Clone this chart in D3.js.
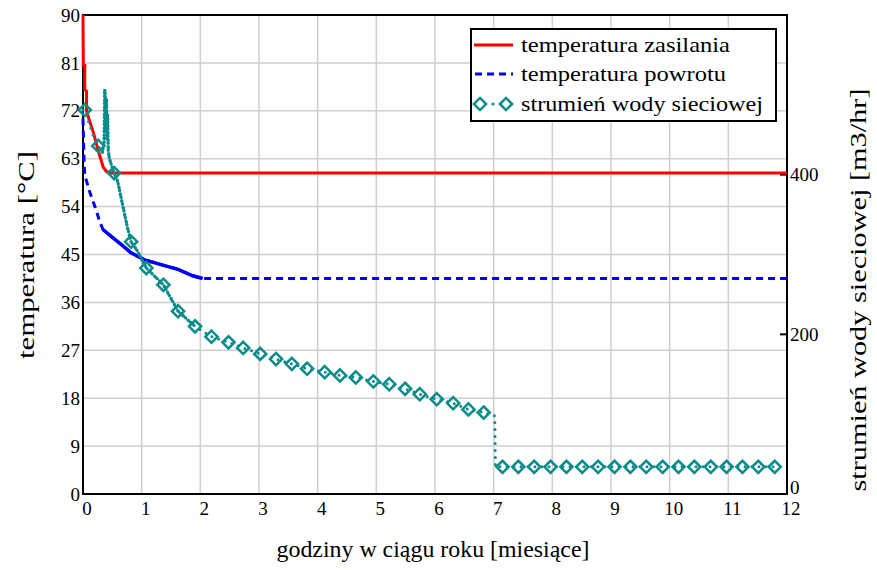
<!DOCTYPE html>
<html>
<head>
<meta charset="utf-8">
<script src="https://cdn.jsdelivr.net/npm/d3@7"></script>
<style>
  body { margin: 0; background: #fff; }
</style>
</head>
<body>
<script>
// axis ticks
const monthTicks = [0, 1, 2, 3, 4, 5, 6, 7, 8, 9, 10, 11, 12];
const tempTicks = [0, 9, 18, 27, 36, 45, 54, 63, 72, 81, 90];
const flowTicks = [0, 200, 400];

// temperatura zasilania (left axis)
const supplyX = [0, 0.005, 0.03, 0.03, 0.06, 0.06, 0.1, 0.175, 0.26, 0.345, 0.4, 0.46, 12];
const supplyT = [90, 80.5, 80.5, 76, 75.7, 72, 70.5, 68, 64.5, 61.4, 60.6, 60.3, 60.3];

// temperatura powrotu (left axis)
const returnX = [0, 0.01, 0.02, 0.03, 0.06, 0.11, 0.17, 0.23, 0.28, 0.34, 0.48, 0.65, 0.82, 1.05, 1.33, 1.62, 1.87, 2.04, 12];
const returnT = [70.5, 66, 62, 60, 58.8, 56.9, 55, 53.2, 51.3, 49.7, 48.4, 46.9, 45.3, 44, 43.1, 42.2, 41, 40.5, 40.5];

// strumień wody sieciowej (right axis, m3/hr)
const flowX = [0, 0.03, 0.1, 0.18, 0.26, 0.33, 0.36, 0.37, 0.38, 0.39, 0.4, 0.41, 0.42, 0.43, 0.45, 0.53, 0.59, 0.65, 0.71, 0.76, 0.82, 0.93, 1.08,
  1.37, 1.62, 1.91, 2.19, 2.48, 2.73, 3.02, 3.29, 3.56, 3.82, 4.12, 4.38, 4.65, 4.95, 5.22, 5.49, 5.74, 6.03, 6.31, 6.57, 6.83, 7.02, 7.03, 11.88];
const flowV = [481, 481, 465, 448, 436, 428, 440, 506, 500, 455, 495, 445, 475, 430, 420, 402, 392, 371, 350, 333, 316, 304, 283,
  262, 229, 210, 197, 190, 183, 175.5, 169, 163, 157, 152.6, 148.5, 146, 141, 137.5, 131.7, 125, 118.7, 113.7, 106, 102, 97.8, 34, 34];

// diamond markers on the flow curve
const markerX = [0.03, 0.26, 0.53, 0.82, 1.08, 1.37, 1.62, 1.91, 2.19, 2.48, 2.73, 3.02, 3.29, 3.56, 3.82, 4.12, 4.38, 4.65, 4.95, 5.22, 5.49, 5.74, 6.03, 6.31, 6.57, 6.83,
  7.15, 7.42, 7.69, 7.97, 8.24, 8.51, 8.78, 9.06, 9.33, 9.6, 9.88, 10.15, 10.42, 10.7, 10.97, 11.24, 11.51, 11.79];
const markerV = [481, 436, 402, 316, 283, 262, 229, 210, 197, 190, 183, 175.5, 169, 163, 157, 152.6, 148.5, 146, 141, 137.5, 131.7, 125, 118.7, 113.7, 106, 102,
  34, 34, 34, 34, 34, 34, 34, 34, 34, 34, 34, 34, 34, 34, 34, 34, 34, 34];

const legendLabels = ["temperatura zasilania", "temperatura powrotu", "strumień wody sieciowej"];

const width = 877, height = 570;
const m = { left: 83, top: 15, right: 90, bottom: 76 };
const RED = "#ff0000", BLUE = "#0000ff", TEAL = "#0a8c8c";
const FONT = "'Liberation Serif', 'Times New Roman', Times, serif";

const svg = d3.select("body").append("svg")
  .attr("width", width)
  .attr("height", height)
  .attr("font-family", FONT)
  .style("font-family", FONT);

const x = d3.scaleLinear().domain([0, 12]).range([m.left, width - m.right]);
const y = d3.scaleLinear().domain([0, 90]).range([height - m.bottom, m.top]);
const y2 = d3.scaleLinear().domain([0, 600]).range([height - m.bottom, m.top]);

const zip = (xs, ys) => xs.map((v, i) => [v, ys[i]]);
const supply = zip(supplyX, supplyT);
const ret = zip(returnX, returnT);
const flow = zip(flowX, flowV);
const markers = zip(markerX, markerV);

// grid
svg.append("g")
  .selectAll("line")
  .data(monthTicks.slice(1, -1))
  .join("line")
  .attr("x1", d => x(d)).attr("x2", d => x(d))
  .attr("y1", y(0)).attr("y2", y(90))
  .attr("stroke", "#cfcfcf").attr("stroke-width", 1.5);

svg.append("g")
  .selectAll("line")
  .data(tempTicks.slice(1, -1))
  .join("line")
  .attr("x1", x(0)).attr("x2", x(12))
  .attr("y1", d => y(d)).attr("y2", d => y(d))
  .attr("stroke", "#cfcfcf").attr("stroke-width", 1.5);

// frame
svg.append("rect")
  .attr("x", x(0)).attr("y", y(90))
  .attr("width", x(12) - x(0)).attr("height", y(0) - y(90))
  .attr("fill", "none").attr("stroke", "#000").attr("stroke-width", 2);

// right axis ticks
svg.append("g")
  .selectAll("line")
  .data(flowTicks.slice(1))
  .join("line")
  .attr("x1", x(12) - 7).attr("x2", x(12))
  .attr("y1", d => y2(d)).attr("y2", d => y2(d))
  .attr("stroke", "#000").attr("stroke-width", 2);

// tick labels
svg.append("g")
  .selectAll("text")
  .data(tempTicks)
  .join("text")
  .attr("x", x(0) - 3).attr("y", d => y(d))
  .attr("text-anchor", "end").attr("dy", "0.35em")
  .attr("font-size", 19)
  .text(d => d);

svg.append("g")
  .selectAll("text")
  .data(monthTicks)
  .join("text")
  .attr("x", d => x(d) + 4).attr("y", y(0) + 21)
  .attr("text-anchor", "middle")
  .attr("font-size", 19)
  .text(d => d);

svg.append("g")
  .selectAll("text")
  .data(flowTicks)
  .join("text")
  .attr("x", x(12) + 3).attr("y", d => d === 0 ? y2(d) - 7 : y2(d))
  .attr("dy", "0.35em")
  .attr("font-size", 19)
  .text(d => d);

// axis titles
svg.append("text")
  .attr("transform", "translate(34,255) rotate(-90)")
  .attr("text-anchor", "middle").attr("font-size", 23)
  .attr("textLength", 208).attr("lengthAdjust", "spacingAndGlyphs")
  .text("temperatura [°C]");

svg.append("text")
  .attr("transform", "translate(866,290) rotate(-90)")
  .attr("text-anchor", "middle").attr("font-size", 23)
  .attr("textLength", 403).attr("lengthAdjust", "spacingAndGlyphs")
  .text("strumień wody sieciowej [m3/hr]");

svg.append("text")
  .attr("x", 433).attr("y", 557)
  .attr("text-anchor", "middle").attr("font-size", 23)
  .attr("textLength", 313).attr("lengthAdjust", "spacingAndGlyphs")
  .text("godziny w ciągu roku [miesiące]");

// series
const line = d3.line().x(d => x(d[0])).y(d => y(d[1]));
const line2 = d3.line().x(d => x(d[0])).y(d => y2(d[1]));

svg.append("path").datum(supply)
  .attr("d", line)
  .attr("fill", "none").attr("stroke", RED).attr("stroke-width", 3);

svg.append("path").datum(ret)
  .attr("d", line)
  .attr("fill", "none").attr("stroke", BLUE).attr("stroke-width", 3)
  .attr("stroke-dasharray", "7,5");

// dense part of the return curve shows up almost solid
svg.append("path").datum(ret.filter(d => d[0] >= 0.34 && d[0] <= 2.04))
  .attr("d", line)
  .attr("fill", "none").attr("stroke", BLUE).attr("stroke-width", 3.5);

svg.append("path").datum(flow)
  .attr("d", line2)
  .attr("fill", "none").attr("stroke", TEAL).attr("stroke-width", 3)
  .attr("stroke-linecap", "round")
  .attr("stroke-dasharray", "0,7");

// dense part of the flow curve: dots packed closer together
svg.append("path").datum(flow.filter(d => d[0] >= 0.33 && d[0] <= 1.91))
  .attr("d", line2)
  .attr("fill", "none").attr("stroke", TEAL).attr("stroke-width", 3.5)
  .attr("stroke-linecap", "round")
  .attr("stroke-dasharray", "0,3.5");

const diamond = d3.symbol().type(d3.symbolDiamond2).size(95);

svg.append("g")
  .selectAll("path")
  .data(markers)
  .join("path")
  .attr("d", diamond)
  .attr("transform", d => `translate(${x(d[0])},${y2(d[1])})`)
  .attr("fill", "none").attr("stroke", TEAL).attr("stroke-width", 2.5);

// legend
const lg = svg.append("g");
lg.append("rect")
  .attr("x", 471).attr("y", 29).attr("width", 305).attr("height", 92)
  .attr("fill", "#fff").attr("stroke", "#000").attr("stroke-width", 2);

const rowY = [45, 74, 104];
const textLen = [209, 205, 242];

lg.append("line")
  .attr("x1", 474).attr("x2", 513).attr("y1", rowY[0]).attr("y2", rowY[0])
  .attr("stroke", RED).attr("stroke-width", 3);
lg.append("line")
  .attr("x1", 475).attr("x2", 513).attr("y1", rowY[1]).attr("y2", rowY[1])
  .attr("stroke", BLUE).attr("stroke-width", 3).attr("stroke-dasharray", "7,5");
lg.append("circle").attr("cx", 493).attr("cy", rowY[2]).attr("r", 1.6).attr("fill", TEAL);
[480, 506].forEach(cx => {
  lg.append("path").attr("d", diamond)
    .attr("transform", `translate(${cx},${rowY[2]})`)
    .attr("fill", "none").attr("stroke", TEAL).attr("stroke-width", 2.5);
});

lg.selectAll("text.lab")
  .data(legendLabels)
  .join("text")
  .attr("class", "lab")
  .attr("x", 521).attr("y", (d, i) => rowY[i])
  .attr("dy", "0.32em")
  .attr("font-size", 22)
  .attr("textLength", (d, i) => textLen[i]).attr("lengthAdjust", "spacingAndGlyphs")
  .text(d => d);
</script>
</body>
</html>
